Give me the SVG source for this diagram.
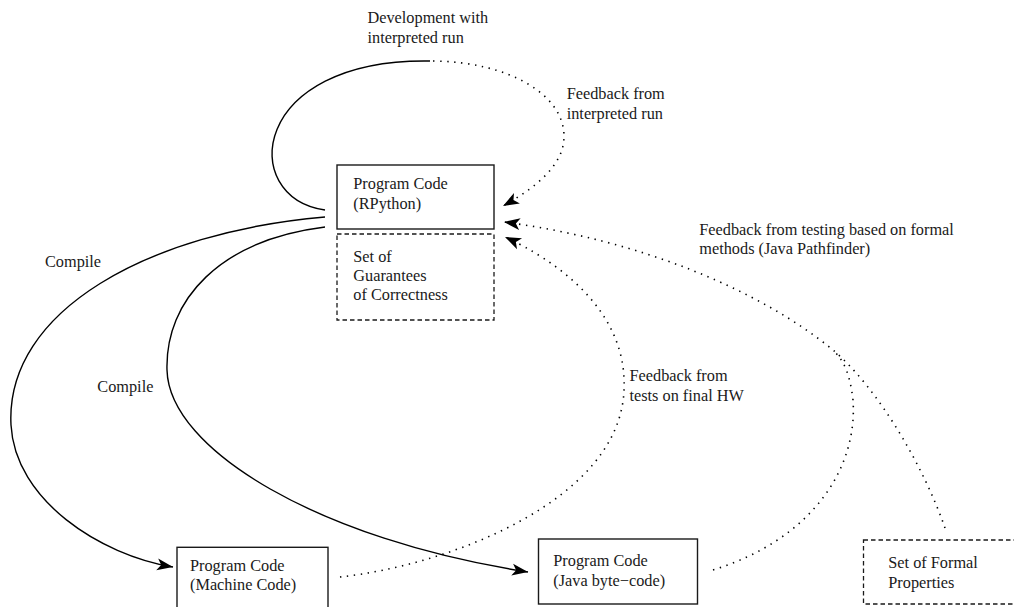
<svg xmlns="http://www.w3.org/2000/svg" width="1014" height="607" viewBox="0 0 1014 607">
<style>
text{font-family:"Liberation Serif","Times New Roman",serif;font-size:16.3px;fill:#1a1a1a}
.box{fill:none;stroke:#1a1a1a;stroke-width:1.4}
.dbox{fill:none;stroke:#1a1a1a;stroke-width:1.3;stroke-dasharray:4.5 3}
.solid{fill:none;stroke:#000;stroke-width:1.4}
.dot{fill:none;stroke:#000;stroke-width:1.6;stroke-dasharray:1.4 5.6}
</style>
<defs>
<marker id="ah" markerUnits="userSpaceOnUse" markerWidth="20" markerHeight="14" refX="16" refY="6" orient="auto" overflow="visible">
<path d="M0,0 L16,6 L0,12 L4,6 Z" fill="#000"/>
</marker>
</defs>
<rect width="1014" height="607" fill="#fff"/>
<g id="connectors">
<path class="solid" d="M325 210 C 237 197, 250 58, 430 61"/>
<path class="dot" d="M433 61 C 510 62, 563 95, 564 135 C 565 165, 535 188, 503 206" marker-end="url(#ah)"/>
<path class="solid" d="M325 217 C 150 232, 5 310, 11 425 C 15 500, 100 555, 173 567" marker-end="url(#ah)"/>
<path class="solid" d="M325 227 C 220 240, 165 300, 167 370 C 169 450, 320 540, 528 572" marker-end="url(#ah)"/>
<path class="dot" d="M340 577 C 450 565, 620 500, 624 390 C 628 310, 555 260, 505 237" marker-end="url(#ah)"/>
<path class="dot" d="M713 570 C 810 540, 858 470, 853 400 C 850 375, 845 362, 833 350"/>
<path class="dot" d="M945 528 C 925 470, 880 390, 833 350 C 760 290, 640 240, 504 222" marker-end="url(#ah)"/>
<text x="367.5" y="23.3">Development with</text>
<text x="367.5" y="42.8">interpreted run</text>
<text x="566.7" y="99.3">Feedback from</text>
<text x="566.7" y="119">interpreted run</text>
<text x="45" y="266.7">Compile</text>
<text x="97.3" y="391.7">Compile</text>
<text x="699.3" y="234.5">Feedback from testing based on formal</text>
<text x="699.3" y="254">methods (Java Pathfinder)</text>
<text x="629.5" y="380.7">Feedback from</text>
<text x="629.5" y="400.5">tests on final HW</text>
</g>
<g id="rpython">
<rect class="box" x="337" y="165" width="157" height="64"/>
<text x="353.3" y="189">Program Code</text>
<text x="353.3" y="208.5">(RPython)</text>
</g>
<g id="guarantees">
<rect class="dbox" x="337" y="234" width="157" height="86"/>
<text x="353.3" y="262">Set of</text>
<text x="353.3" y="281">Guarantees</text>
<text x="353.3" y="300">of Correctness</text>
</g>
<g id="machine">
<rect class="box" x="177" y="547.3" width="151" height="63"/>
<text x="190" y="570.5">Program Code</text>
<text x="190" y="590">(Machine Code)</text>
</g>
<g id="javabc">
<rect class="box" x="538.5" y="539" width="159" height="65"/>
<text x="553.3" y="565.5">Program Code</text>
<text x="553.3" y="585.5">(Java byte−code)</text>
</g>
<g id="formal">
<rect class="dbox" x="863.5" y="540" width="200" height="64"/>
<text x="888.3" y="568.3">Set of Formal</text>
<text x="888.3" y="587.7">Properties</text>
</g>
</svg>
